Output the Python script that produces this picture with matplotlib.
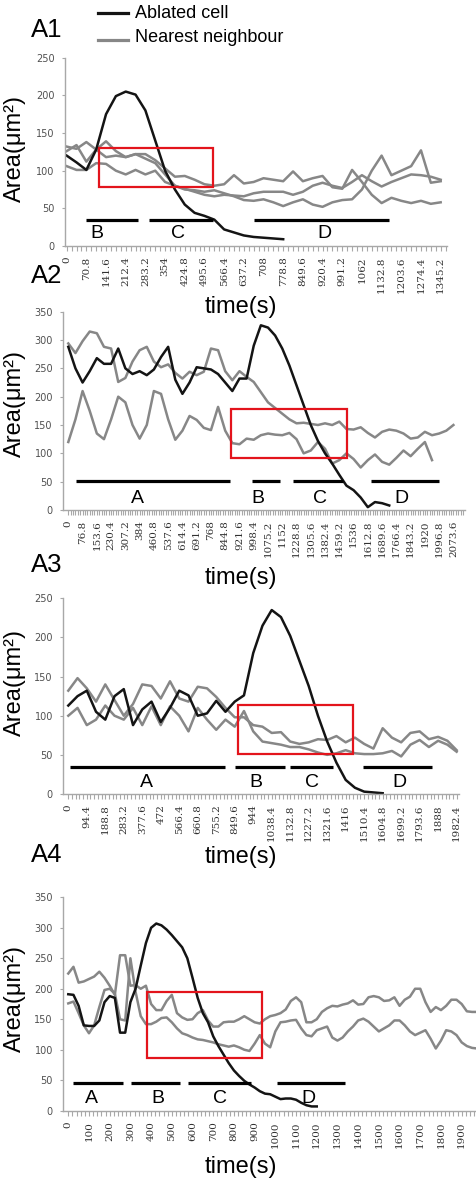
import numpy as np
import matplotlib
matplotlib.use("Agg")
import matplotlib.pyplot as plt
from matplotlib.lines import Line2D
from matplotlib.patches import Rectangle
from matplotlib.ticker import FixedLocator

plt.rcParams['font.family'] = ['Liberation Sans', 'DejaVu Sans']

W, H = 477, 1180
GREY = "#878787"
BLACK = "#141414"
RED = "#e3141c"
AXIS = "#a8a8a8"

# ---- A1: one sample every 35.4 s ----
a1_step = 35.4
a1_ablated = [120, 111, 101, 128, 175, 199, 205, 201, 180, 140, 100, 75, 55, 44, 40, 35, 22, 18, 14, 12, 11, 10, 9]
a1_neigh1 = [132, 129, 138, 128, 139, 126, 118, 122, 122, 114, 103, 92, 93, 88, 82, 80, 82, 94,
             83, 85, 90, 88, 86, 99, 86, 90, 93, 78, 76, 101, 85, 68, 57, 64, 60, 57, 60, 56, 58]
a1_neigh2 = [106, 101, 101, 110, 109, 100, 95, 101, 95, 100, 85, 80, 76, 72, 68, 66, 68, 67,
             66, 70, 72, 72, 72, 68, 72, 80, 84, 80, 77, 85, 94, 86, 79, 85, 90, 95, 94, 92, 88]
a1_neigh3 = [126, 134, 112, 128, 118, 120, 118, 122, 116, 110, 95, 80, 75, 74, 72, 74, 70, 66,
             61, 60, 62, 58, 53, 58, 62, 55, 52, 58, 61, 62, 75, 100, 120, 94, 100, 106, 127, 84, 86]
a1_ticklabels = ["0", "70.8", "141.6", "212.4", "283.2", "354", "424.8", "495.6", "566.4", "637.2",
                 "708", "778.8", "849.6", "920.4", "991.2", "1062", "1132.8", "1203.6", "1274.4", "1345.2"]
a1_box = [116, 528, 78, 130]
a1_phases = ["B", "C", "D"]
a1_phase_start = [70, 296, 674]
a1_phase_end = [258, 525, 1161]
a1_phase_label_x = [108, 399, 926]

# ---- A2: one sample every 38.4 s ----
a2_step = 38.4
a2_ablated = [288, 250, 225, 245, 268, 258, 258, 285, 250, 240, 245, 238, 248, 270, 288, 230,
              205, 225, 252, 250, 248, 240, 225, 210, 232, 232, 290, 326, 322, 308, 285, 255,
              220, 185, 150, 122, 100, 82, 62, 43, 35, 22, 5, 14, 12, 8]
a2_neigh1 = [294, 277, 298, 315, 312, 288, 285, 226, 233, 262, 282, 288, 262, 252, 257, 242,
             232, 244, 238, 244, 285, 282, 245, 229, 245, 235, 226, 208, 190, 180, 170, 160,
             153, 154, 152, 150, 153, 150, 156, 143, 142, 146, 136, 128, 138, 142, 140, 135,
             126, 128, 138, 132, 135, 140, 150]
a2_neigh2 = [120, 160, 210, 175, 135, 125, 160, 200, 190, 150, 126, 150, 210, 205, 160, 124,
             140, 166, 159, 145, 141, 182, 140, 118, 116, 126, 124, 132, 135, 133, 132, 136,
             125, 100, 105, 120, 108, 82, 88, 100, 90, 75, 88, 98, 85, 80, 92, 105, 95, 108,
             120, 88]
a2_ticklabels = ["0", "76.8", "153.6", "230.4", "307.2", "384", "460.8", "537.6", "614.4", "691.2",
                 "768", "844.8", "921.6", "998.4", "1075.2", "1152", "1228.8", "1305.6", "1382.4",
                 "1459.2", "1536", "1612.8", "1689.6", "1766.4", "1843.2", "1920", "1996.8", "2073.6"]
a2_box = [874, 1499, 92, 179]
a2_phases = ["A", "B", "C", "D"]
a2_phase_start = [41, 987, 1208, 1628]
a2_phase_end = [871, 1140, 1478, 1998]
a2_phase_label_x = [372, 1023, 1355, 1795]

# ---- A3: one sample every 47.2 s ----
a3_step = 47.2
a3_ablated = [113, 125, 132, 105, 95, 125, 134, 88, 108, 118, 92, 110, 132, 126, 100, 103, 119,
              105, 118, 126, 180, 215, 235, 226, 202, 170, 138, 100, 67, 40, 18, 8, 3, 2, 1]
a3_neigh1 = [132, 148, 135, 118, 140, 120, 100, 115, 140, 138, 122, 144, 122, 118, 137, 135, 124,
             110, 98, 98, 88, 86, 78, 79, 67, 64, 66, 70, 69, 74, 66, 72, 64, 58, 84, 72, 66,
             78, 80, 70, 73, 68, 56]
a3_neigh2 = [100, 110, 88, 95, 113, 100, 95, 110, 88, 112, 88, 112, 100, 80, 110, 95, 82, 95,
             86, 106, 80, 67, 65, 63, 60, 60, 57, 53, 50, 52, 56, 52, 51, 51, 52, 55, 48, 63,
             69, 60, 68, 63, 54]
a3_ticklabels = ["0", "94.4", "188.8", "283.2", "377.6", "472", "566.4", "660.8", "755.2", "849.6",
                 "944", "1038.4", "1132.8", "1227.2", "1321.6", "1416", "1510.4", "1604.8",
                 "1699.2", "1793.6", "1888", "1982.4"]
a3_box = [868, 1451, 51, 114]
a3_phases = ["A", "B", "C", "D"]
a3_phase_start = [8, 851, 1132, 1502]
a3_phase_end = [800, 1106, 1353, 1855]
a3_phase_label_x = [400, 958, 1246, 1690]

# ---- A4: one sample every 25 s ----
a4_step = 25
a4_ablated = [191, 190, 172, 140, 139, 139, 148, 178, 188, 185, 128, 128, 178, 200, 238, 275,
              300, 307, 304, 297, 288, 278, 268, 250, 218, 185, 160, 145, 122, 106, 92, 78, 66,
              57, 49, 43, 38, 32, 28, 27, 23, 19, 20, 20, 18, 13, 9, 7, 7]
a4_neigh1 = [225, 236, 210, 212, 216, 220, 228, 218, 205, 190, 255, 255, 205, 206, 200, 205,
             175, 165, 165, 180, 190, 160, 153, 149, 150, 160, 165, 148, 138, 138, 145, 146,
             146, 150, 155, 150, 145, 143, 150, 155, 157, 160, 166, 180, 186, 178, 145, 145,
             150, 162, 168, 172, 171, 174, 176, 181, 174, 175, 186, 188, 186, 180, 181, 186,
             172, 182, 187, 200, 200, 178, 162, 170, 165, 172, 182, 182, 175, 163, 162, 162]
a4_neigh2 = [176, 179, 160, 140, 127, 140, 170, 198, 200, 192, 150, 148, 250, 195, 155, 142,
             142, 146, 152, 153, 145, 135, 127, 124, 120, 117, 116, 114, 112, 109, 107, 105,
             107, 104, 100, 98, 110, 124, 110, 104, 130, 145, 146, 148, 149, 135, 124, 122,
             132, 135, 138, 120, 115, 120, 130, 138, 148, 151, 146, 138, 130, 135, 140, 148,
             148, 140, 130, 124, 128, 132, 118, 102, 115, 132, 130, 124, 112, 106, 103, 102]
a4_ticklabels = [str(v) for v in range(0, 2000, 100)]
a4_box = [378, 934, 87, 195]
a4_phases = ["A", "B", "C", "D"]
a4_phase_start = [21, 301, 580, 1006]
a4_phase_end = [262, 539, 881, 1337]
a4_phase_label_x = [110, 435, 733, 1159]

fig = plt.figure(figsize=(W / 100, H / 100), dpi=100)


def px_axes(left, top, right, bottom):
    return fig.add_axes([left / W, 1 - bottom / H, (right - left) / W, (bottom - top) / H])


def ftext(x, y, s, **kw):
    fig.text(x / W, 1 - y / H, s, **kw)


def draw_panel(rect, xlim, ymax, step, ablated, neighbours, ticklabels, tick_step, minor_step,
               box, phases, phase_start, phase_end, phase_label_x, bar_y, label_y):
    ax = px_axes(*rect)
    for n in neighbours:
        ax.plot(np.arange(len(n)) * step, n, color=GREY, lw=1.8, solid_joinstyle="round")
    ax.plot(np.arange(len(ablated)) * step, ablated, color=BLACK, lw=1.8, solid_joinstyle="round")

    ax.add_patch(Rectangle((box[0], box[2]), box[1] - box[0], box[3] - box[2],
                           fill=False, ec=RED, lw=1.6, zorder=5))
    for name, s, e, lx in zip(phases, phase_start, phase_end, phase_label_x):
        ax.plot([s, e], [bar_y, bar_y], color="black", lw=2.3, solid_capstyle="butt")
        ax.text(lx, label_y, name, ha="center", va="center", fontsize=14)

    ax.set_xlim(*xlim)
    ax.set_ylim(0, ymax)
    for side in ("top", "right"):
        ax.spines[side].set_visible(False)
    for side in ("left", "bottom"):
        ax.spines[side].set_color(AXIS)
        ax.spines[side].set_linewidth(1.0)

    ax.set_yticks(np.arange(0, ymax + 1, 50))
    ax.tick_params(axis="y", length=2.5, width=0.8, color=AXIS, pad=5,
                   labelsize=7, labelcolor="#505050")
    for lab in ax.get_yticklabels():
        lab.set_fontfamily("DejaVu Sans")

    ax.set_xticks(np.arange(len(ticklabels)) * tick_step)
    ax.set_xticklabels(ticklabels, rotation=90, fontsize=7.5, fontfamily="DejaVu Serif",
                       color="#303030")
    ax.xaxis.set_minor_locator(FixedLocator(np.arange(0, xlim[1], minor_step)))
    ax.tick_params(axis="x", which="both", length=3.5, width=0.8, color=AXIS, pad=4)
    return ax


draw_panel((65, 57.7, 447, 246), (-6, 1368), 250, a1_step, a1_ablated,
           [a1_neigh1, a1_neigh2, a1_neigh3], a1_ticklabels, 70.8, 17.7, a1_box,
           a1_phases, a1_phase_start, a1_phase_end, a1_phase_label_x, 34.5, 16)
draw_panel((63.3, 311.7, 465, 510), (-27, 2136), 350, a2_step, a2_ablated,
           [a2_neigh1, a2_neigh2], a2_ticklabels, 76.8, 12.8, a2_box,
           a2_phases, a2_phase_start, a2_phase_end, a2_phase_label_x, 51, 21)
draw_panel((63.3, 598.3, 459.3, 794), (-25.5, 1996), 250, a3_step, a3_ablated,
           [a3_neigh1, a3_neigh2], a3_ticklabels, 94.4, 18.88, a3_box,
           a3_phases, a3_phase_start, a3_phase_end, a3_phase_label_x, 35, 15)
draw_panel((63.3, 897.3, 476.7, 1110.7), (-24, 1972.5), 350, a4_step, a4_ablated,
           [a4_neigh1, a4_neigh2], a4_ticklabels, 100, 20, a4_box,
           a4_phases, a4_phase_start, a4_phase_end, a4_phase_label_x, 46, 20)

# panel letters, axis titles
for name, y in [("A1", 30), ("A2", 276), ("A3", 565), ("A4", 855)]:
    ftext(47, y, name, fontsize=18.5, ha="center", va="center")
for y in [307, 578, 857, 1167]:
    ftext(241, y, "time(s)", fontsize=17, ha="center", va="center")
for y in [149, 404, 682, 999]:
    ftext(15, y, "Area(\u03bcm\u00b2)", fontsize=17, rotation=90, ha="center", va="center")

# legend
fig.add_artist(Line2D([98 / W, 128 / W], [1 - 13 / H, 1 - 13 / H], color=BLACK, lw=2.3))
fig.add_artist(Line2D([98 / W, 128 / W], [1 - 40 / H, 1 - 40 / H], color=GREY, lw=2.3))
ftext(135, 14, "Ablated cell", fontsize=13, va="center")
ftext(135, 37, "Nearest neighbour", fontsize=13, va="center")

fig.savefig("out.png", dpi=100)
